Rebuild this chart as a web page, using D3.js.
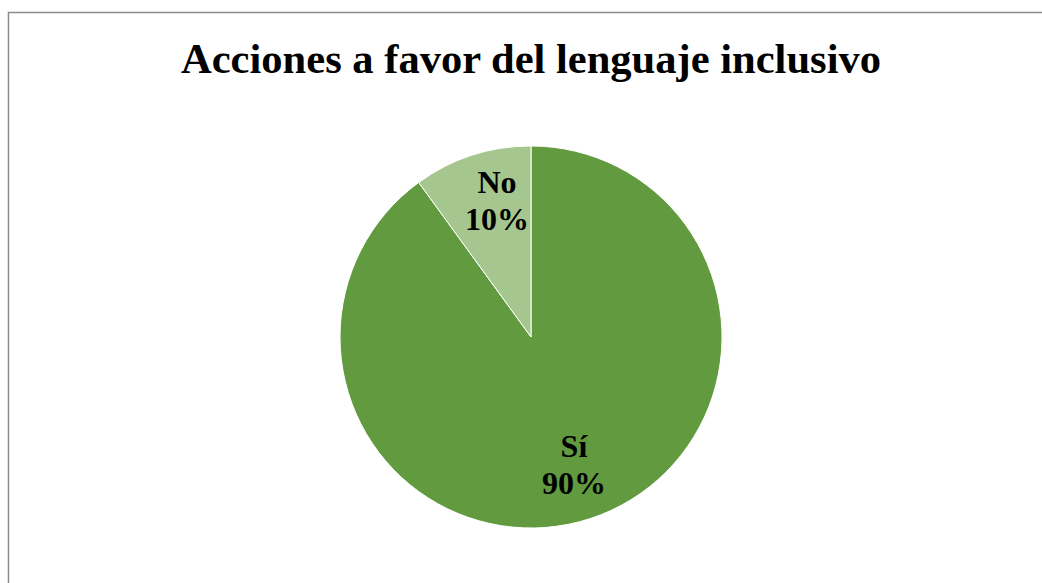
<!DOCTYPE html>
<html>
<head>
<meta charset="utf-8">
<script src="https://cdn.jsdelivr.net/npm/d3@7"></script>
<style>
  body { margin: 0; background: #fff; }
  text { font-family: "Liberation Serif", "Times New Roman", serif; font-weight: bold; }
</style>
</head>
<body>
<div id="chart"></div>
<script>
// data
var title = "Acciones a favor del lenguaje inclusivo";
var categories = ["Sí", "No"];
var values = [90, 10];
var colors = ["#629a40", "#a5c78f"];

var width = 1042, height = 583;
var cx = 531, cy = 337, radius = 191;

var svg = d3.select("#chart").append("svg")
    .attr("width", width)
    .attr("height", height);

// chart border (runs off the bottom/right of the picture)
svg.append("rect")
    .attr("x", 8.5)
    .attr("y", 12.5)
    .attr("width", width + 20)
    .attr("height", height + 20)
    .style("fill", "#fff")
    .style("stroke", "#8c8c8c")
    .attr("stroke-width", 1.5);

svg.append("text")
    .attr("x", cx)
    .attr("y", 73)
    .attr("text-anchor", "middle")
    .attr("textLength", 700)
    .attr("lengthAdjust", "spacingAndGlyphs")
    .style("font-size", "42px")
    .text(title);

var pieData = d3.pie().sort(null)(values);

var arc = d3.arc().innerRadius(0).outerRadius(radius);
var labelArc = d3.arc().innerRadius(139 * 2).outerRadius(0);

var g = svg.append("g")
    .attr("transform", "translate(" + cx + "," + cy + ")");

g.selectAll("path")
    .data(pieData)
    .enter().append("path")
      .attr("d", arc)
      .style("fill", function (d, i) { return colors[i]; })
      .style("stroke", "#ffffff")
      .attr("stroke-width", 1);

// labels: category on top, percentage below
var total = d3.sum(values);
var labels = g.selectAll(".lbl")
    .data(pieData)
    .enter().append("text")
      .attr("class", "lbl")
      .attr("text-anchor", "middle")
      .style("font-size", "32px")
      .attr("transform", function (d) {
        var c = labelArc.centroid(d);
        // keep the small slice's label inside its wedge
        if (d.endAngle - d.startAngle < 1) c[0] += 9;
        return "translate(" + c[0] + "," + c[1] + ")";
      });

labels.append("tspan")
    .attr("x", 0)
    .attr("dy", "-0.38em")
    .text(function (d, i) { return categories[i]; });

labels.append("tspan")
    .attr("x", 0)
    .attr("dy", "1.16em")
    .text(function (d) { return Math.round(d.value / total * 100) + "%"; });
</script>
</body>
</html>
